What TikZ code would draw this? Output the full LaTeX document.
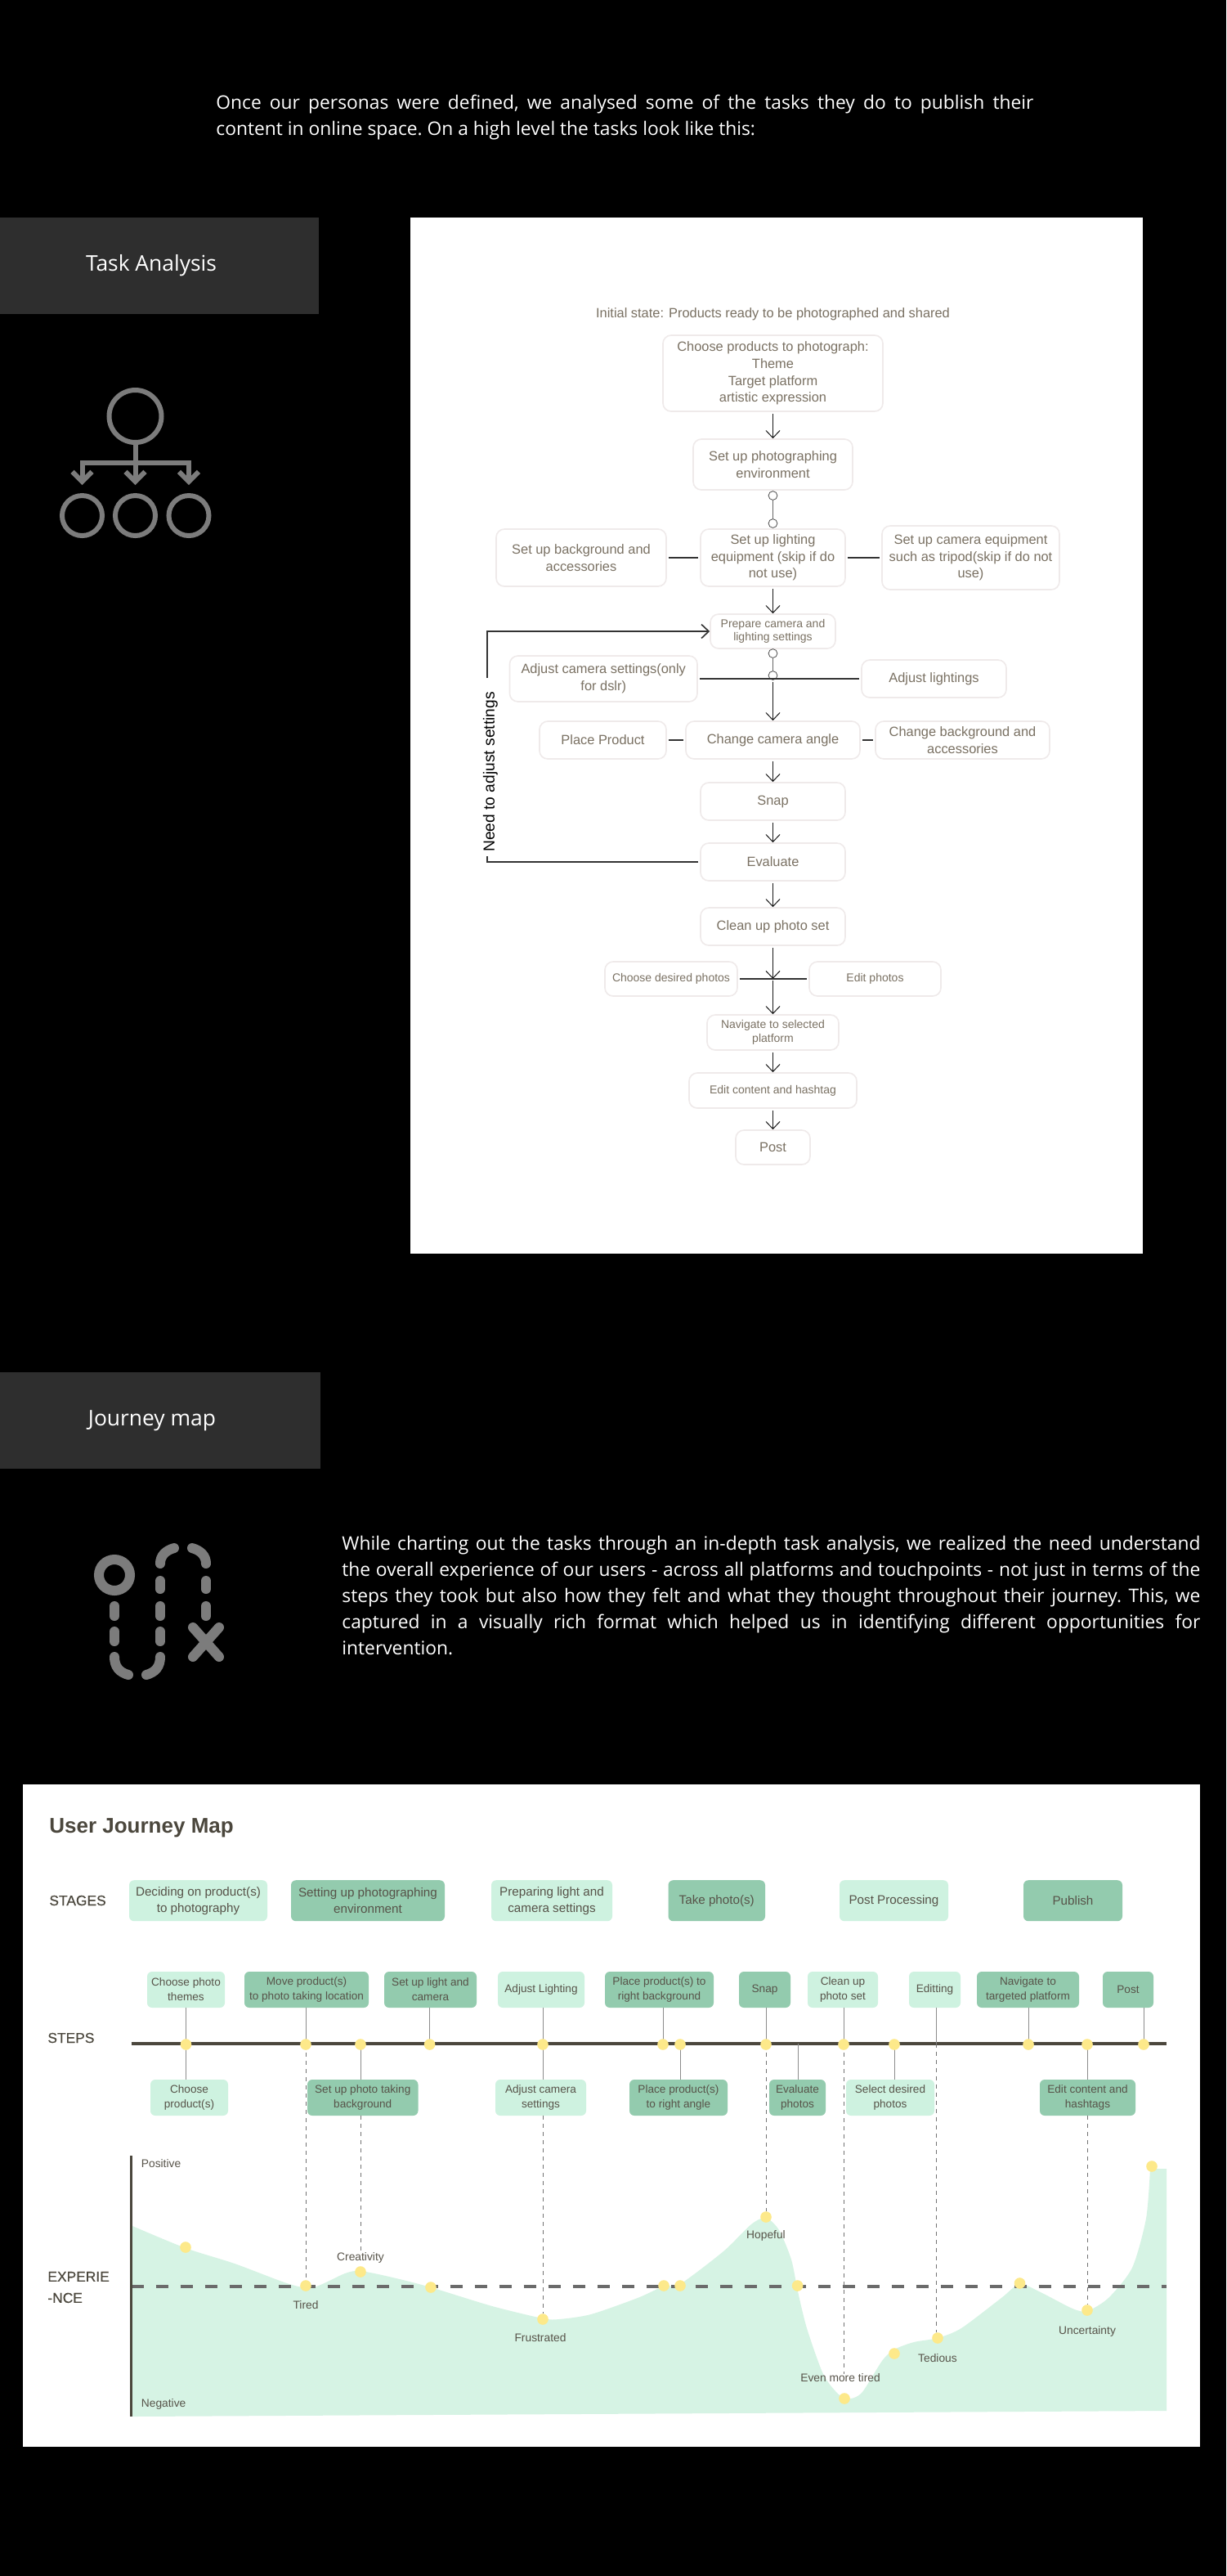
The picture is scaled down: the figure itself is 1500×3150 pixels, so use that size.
\documentclass[tikz,border=0pt]{standalone}
\usepackage{fontspec}
\setmainfont{Liberation Sans}
\newfontfamily\bodyfont{Open Sans}
\newfontfamily\mediumfont[FakeBold=0.3]{Liberation Sans}
\usetikzlibrary{arrows.meta}
\definecolor{panelgray}{HTML}{2E2E2E}
\definecolor{icongray}{HTML}{7C7C7C}
\definecolor{flowtext}{HTML}{7A7163}
\definecolor{flowedge}{HTML}{EFEAEA}
\definecolor{maptext}{HTML}{575349}
\definecolor{mapdark}{HTML}{4B473D}
\definecolor{lightgreen}{HTML}{CEF2E0}
\definecolor{darkgreen}{HTML}{93CBAE}
\definecolor{areagreen}{HTML}{D6F3E4}
\definecolor{dotyellow}{HTML}{FDE98A}
\newcommand{\bx}[7][]{%
  \pgfmathsetmacro\bxcx{(#3+#5)/2}\pgfmathsetmacro\bxcy{(#4+#6)/2}%
  \pgfmathsetmacro\bxw{(#5-#3)*0.5}\pgfmathsetmacro\bxh{(#6-#4)*0.5}%
  \node[#1,minimum width=\bxw pt,minimum height=\bxh pt] (#2) at (\bxcx,\bxcy) {#7};}
\tikzset{
  x=0.5pt,y=-0.5pt,
  flowbig/.style={draw=flowedge,line width=.8pt,rounded corners=5pt,fill=white,inner sep=0pt,align=center,text=flowtext,font=\fontsize{8.2}{10.3}\selectfont},
  flowsmall/.style={flowbig,font=\fontsize{7}{8.2}\selectfont},
  flowarrow/.style={draw=black!90,line width=.5pt,shorten <=1pt,-{Straight Barb[length=4.5pt,width=8.5pt]}},
  flowline/.style={draw=black!80,line width=.8pt,shorten <=1pt,shorten >=1pt},
  flowthin/.style={draw=black!60,line width=.5pt},
  ringnode/.style={circle,draw=black!70,fill=white,line width=.4pt,minimum size=5.4pt,inner sep=0pt},
  sectionbox/.style={fill=panelgray,inner sep=0pt,align=center,text=white,font=\bodyfont\fontsize{13.2}{16}\selectfont},
  bodytext/.style={text=white,align=justify,inner sep=0pt,anchor=north west,font=\bodyfont\frenchspacing\fontsize{11.4}{16}\selectfont},
  iconring/.style={circle,draw=icongray,line width=3pt,inner sep=0pt},
  iconline/.style={draw=icongray,line width=3pt},
  iconarrow/.style={iconline,-{Straight Barb[length=6pt,width=12pt]}},
  uxstroke/.style={draw=icongray,line width=6pt,line cap=round},
  lightstage/.style={fill=lightgreen,rounded corners=3pt,inner sep=0pt,align=center,text=maptext,font=\fontsize{7.6}{10}\selectfont},
  darkstage/.style={lightstage,fill=darkgreen},
  lightstep/.style={lightstage,font=\fontsize{6.8}{9}\selectfont},
  darkstep/.style={lightstep,fill=darkgreen},
  rowlabel/.style={anchor=west,inner sep=0pt,text=mapdark,font=\mediumfont\fontsize{8.7}{13}\selectfont},
  dotnode/.style={circle,fill=dotyellow,minimum size=6.8pt,inner sep=0pt},
  stemline/.style={draw=black!45,line width=.5pt},
  dashstem/.style={draw=black!55,line width=.45pt,dash pattern=on 2.5pt off 2.5pt},
  emolabel/.style={inner sep=0pt,text=maptext,font=\fontsize{6.9}{9}\selectfont},
}
\begin{document}
\begin{tikzpicture}
\useasboundingbox (0,0) rectangle (1500,3150);
\fill[black] (0,0) rectangle (1500,3150);

% intro
\node[bodytext,text width=500pt] (intro) at (264,116) {Once our personas were defined, we analysed some of the tasks they do to publish their\linebreak content in online space. On a high level the tasks look like this:};

% task analysis header
\bx[sectionbox]{taskhead}{0}{266}{390}{384}{Task Analysis\hspace{10pt}}

% tree icon
\node[iconring,minimum size=32pt] (treetop) at (165.5,509) {};
\node[iconring,minimum size=24.5pt] (treeA) at (100.5,630.5) {};
\node[iconring,minimum size=24.5pt] (treeB) at (165.5,630.5) {};
\node[iconring,minimum size=24.5pt] (treeC) at (231,630.5) {};
\coordinate (treeJ) at (165.5,566);
\coordinate (treeL) at (100.5,566);
\coordinate (treeR) at (231,566);
\draw[iconline] (treetop.south) -- (treeJ);
\draw[iconline,line cap=rect] (treeL) -- (treeR);
\draw[iconarrow] (treeL) -- ([yshift=5pt]treeA.north);
\draw[iconarrow] (treeJ) -- ([yshift=5pt]treeB.north);
\draw[iconarrow] (treeR) -- ([yshift=5pt]treeC.north);

% task flow panel
\fill[white] (502,266) rectangle (1398,1533);
\node[text=flowtext,inner sep=0pt,font=\fontsize{8.2}{10}\selectfont] (initial) at (945.5,384) {Initial state: Products ready to be photographed and shared};
\bx[flowbig]{choose}{811}{410}{1080}{503}{Choose products to photograph:\\Theme\\Target platform\\artistic expression}
\bx[flowbig]{env}{848}{537}{1043}{599}{Set up photographing\\environment}
\node[ringnode] (r1) at (945.5,606) {};
\node[ringnode] (r2) at (945.5,640) {};
\bx[flowbig]{light}{857}{647}{1034}{717}{Set up lighting\\equipment (skip if do\\not use)}
\bx[flowbig]{bgset}{607}{647}{815}{717}{Set up background and\\accessories}
\bx[flowbig]{camset}{1079}{643}{1296}{721}{Set up camera equipment\\such as tripod(skip if do not\\use)}
\bx[flowsmall]{prepare}{869}{751}{1022}{793}{Prepare camera and\\lighting settings}
\node[ringnode] (r3) at (945.5,799) {};
\node[ringnode] (r4) at (945.5,826) {};
\bx[flowbig]{adjcam}{623.5}{802}{853}{858}{Adjust camera settings(only\\for dslr)}
\bx[flowbig]{adjlight}{1054}{807}{1231}{853}{Adjust lightings}
\bx[flowbig]{place}{660}{882}{815}{928}{Place Product}
\bx[flowbig]{angle}{839}{882}{1052}{928}{Change camera angle}
\bx[flowbig]{bgchange}{1071}{882}{1284}{928}{Change background and\\accessories}
\bx[flowbig]{snap}{857}{957}{1034}{1003}{Snap}
\bx[flowbig]{evaluate}{857}{1031}{1034}{1077}{Evaluate}
\bx[flowbig]{clean}{857}{1110}{1034}{1156}{Clean up photo set}
\bx[flowsmall]{desired}{740}{1176}{902}{1218}{Choose desired photos}
\bx[flowsmall]{editph}{990}{1176}{1151}{1218}{Edit photos}
\bx[flowsmall]{navigate}{865}{1241}{1026}{1284}{Navigate to selected\\platform}
\bx[flowsmall]{editcontent}{843}{1312}{1048}{1355}{Edit content and hashtag}
\bx[flowbig]{postbox}{900}{1382}{991}{1424}{Post}
\node[rotate=90,inner sep=0pt,text=black,font=\fontsize{9.6}{11}\selectfont] (needadj) at (600,944) {Need to adjust settings};
\coordinate (fbA) at (596,1045);
\coordinate (fbB) at (596,831);
\coordinate (jnB) at (945.5,1197);
\draw[flowarrow] (choose) -- (env);
\draw[flowthin] (r1) -- (r2);
\draw[flowarrow] (light) -- (prepare);
\draw[flowline] (bgset) -- (light);
\draw[flowline] (light) -- (camset);
\draw[flowthin] (r3) -- (r4);
\draw[flowline] (adjcam) -- (adjlight);
\draw[flowarrow] (r4) -- (angle);
\draw[flowline] (place) -- (angle);
\draw[flowline] (angle) -- (bgchange);
\draw[flowarrow] (angle) -- (snap);
\draw[flowarrow] (snap) -- (evaluate);
\draw[flowarrow] (evaluate) -- (clean);
\draw[flowline,shorten <=1pt] (evaluate.west) -| (fbA);
\draw[flowline,shorten >=0pt,-{Straight Barb[length=4.5pt,width=8.5pt]}] (fbB) |- (prepare.west);
\draw[flowarrow] (clean) -- (jnB);
\draw[flowline] (desired) -- (editph);
\draw[flowarrow] (jnB) -- (navigate);
\draw[flowarrow] (navigate) -- (editcontent);
\draw[flowarrow] (editcontent) -- (postbox);

% journey header
\bx[sectionbox]{journeyhead}{0}{1678}{392}{1796}{Journey map\hspace{10pt}}

% ux icon
\node[circle,draw=icongray,line width=6pt,outer sep=0pt,minimum size=19pt,inner sep=0pt] (uxring) at (140,1926) {};
\draw[uxstroke] (140,1964) -- (140,1976);
\draw[uxstroke] (140,1995) -- (140,2007);
\draw[uxstroke] (140,2026) .. controls (140,2038) and (146,2045) .. (157,2048);
\draw[uxstroke] (196,2026) .. controls (196,2038) and (190,2045) .. (179,2048);
\draw[uxstroke] (196,1933) -- (196,1943);
\draw[uxstroke] (196,1964) -- (196,1976);
\draw[uxstroke] (196,1995) -- (196,2007);
\draw[uxstroke] (196,1912) .. controls (196,1903) and (202,1896) .. (213,1893);
\draw[uxstroke] (252,1912) .. controls (252,1903) and (246,1896) .. (235,1893);
\draw[uxstroke] (252,1933) -- (252,1943);
\draw[uxstroke] (252,1964) -- (252,1976);
\draw[uxstroke] (236,1990) -- (268,2026);
\draw[uxstroke] (268,1990) -- (236,2026);

% paragraph
\node[bodytext,text width=525pt] (para) at (418,1878) {While charting out the tasks through an in-depth task analysis, we realized the need understand\linebreak the overall experience of our users - across all platforms and touchpoints - not just in terms of the\linebreak steps they took but also how they felt and what they thought throughout their journey. This, we\linebreak captured in a visually rich format which helped us in identifying different opportunities for\linebreak intervention.};

% map panel
\fill[white] (28,2182) rectangle (1468,2992);
\node[anchor=west,inner sep=0pt,text=mapdark,font=\bfseries\fontsize{13}{15}\selectfont] (maptitle) at (60,2235) {User Journey Map};
\node[rowlabel] (stageslabel) at (60,2324) {STAGES};
\node[rowlabel] (stepslabel) at (58,2492) {STEPS};
\node[rowlabel,align=left] (explabel) at (58,2797) {EXPERIE\\-NCE};

% experience area
\fill[areagreen] plot[smooth,tension=.45] coordinates {(162,2722) (227,2749) (287,2768) (354,2793) (383.5,2797) (422,2780) (441,2777) (480.5,2785) (527,2797) (602,2820) (664,2835) (684,2836) (723,2830) (780,2810) (812,2795.7) (832,2793) (885,2753) (919,2720) (937,2712) (953,2727) (968,2763) (976,2802) (987,2847) (1007,2903) (1026,2928) (1040.5,2933) (1055,2925) (1079,2887) (1094,2873) (1118,2864) (1147,2859) (1176,2847) (1225,2810) (1247.5,2793) (1273,2803) (1312,2823) (1330,2826) (1356,2810) (1385,2773) (1402,2713) (1407,2652)} -- (1427,2652) -- (1427,2948) -- (162,2955) -- cycle;
\coordinate (midL) at (160.6,2795.7);
\coordinate (midR) at (1427,2795.7);
\draw[black!58,line width=2pt,dash pattern=on 7.5pt off 7.5pt] (midL) -- (midR);
\coordinate (axisT) at (160.6,2636);
\coordinate (axisB) at (160.6,2955);
\draw[mapdark,line width=1.6pt] (axisT) -- (axisB);
\node[emolabel,anchor=west] (positive) at (172.5,2646) {Positive};
\node[emolabel,anchor=west] (negative) at (172.5,2940) {Negative};

% stages
\bx[lightstage,yshift=-.6pt]{st1}{158}{2298}{327}{2348}{Deciding on product(s)\\to photography}
\bx[darkstage,yshift=-.6pt]{st2}{356}{2298}{544}{2348}{Setting up photographing\\environment}
\bx[lightstage,yshift=-.6pt]{st3}{601}{2298}{749}{2348}{Preparing light and\\camera settings}
\bx[darkstage,yshift=-.6pt]{st4}{817.5}{2298}{936}{2348}{Take photo(s)}
\bx[lightstage,yshift=-.6pt]{st5}{1027}{2298}{1160}{2348}{Post Processing}
\bx[darkstage,yshift=-.6pt]{st6}{1252}{2298}{1373}{2348}{Publish}

% steps above
\bx[lightstep]{up1}{180}{2411}{275}{2455}{Choose photo\\themes}
\bx[darkstep]{up2}{299}{2411}{451}{2455}{Move product(s)\\to photo taking location}
\bx[darkstep]{up3}{470}{2411}{583}{2455}{Set up light and\\camera}
\bx[lightstep]{up4}{609}{2411}{715}{2455}{Adjust Lighting}
\bx[darkstep]{up5}{740}{2411}{873}{2455}{Place product(s) to\\right background}
\bx[darkstep]{up6}{904}{2411}{967}{2455}{Snap}
\bx[lightstep]{up7}{988}{2411}{1074}{2455}{Clean up\\photo set}
\bx[lightstep]{up8}{1112}{2411}{1175}{2455}{Editting}
\bx[darkstep]{up9}{1195}{2411}{1320}{2455}{Navigate to\\targeted platform}
\bx[darkstep]{up10}{1349}{2411}{1411}{2455}{Post}

% steps below
\bx[lightstep]{lo1}{184}{2543}{279}{2587}{Choose\\product(s)}
\bx[darkstep]{lo2}{376}{2543}{511.5}{2587}{Set up photo taking\\background}
\bx[lightstep]{lo3}{606}{2543}{717}{2587}{Adjust camera\\settings}
\bx[darkstep]{lo4}{770}{2543}{890}{2587}{Place product(s)\\to right angle}
\bx[darkstep]{lo5}{941}{2543}{1010}{2587}{Evaluate\\photos}
\bx[lightstep]{lo6}{1035}{2543}{1143}{2587}{Select desired\\photos}
\bx[darkstep]{lo7}{1272}{2543}{1389}{2587}{Edit content and\\hashtags}

% timeline
\coordinate (tlL) at (160.6,2498.7);
\coordinate (tlR) at (1427,2498.7);
\coordinate (tlEval) at (976,2498.7);
\coordinate (tlEdit) at (1145,2498.7);
\foreach \nm/\px in {t1/227.5,t2/374,t3/441,t4/525.6,t5/664,t6/811,t7/832,t8/937,t9/1032,t10/1094,t11/1258,t12/1330,t13/1399}{
  \coordinate (\nm pos) at (\px,2500);
}
\draw[mapdark,line width=1.8pt] (tlL) -- (tlR);
\draw[stemline] (up1.south -| t1pos) -- (t1pos);
\draw[stemline] (up2.south -| t2pos) -- (t2pos);
\draw[stemline] (up3.south -| t4pos) -- (t4pos);
\draw[stemline] (up4.south -| t5pos) -- (t5pos);
\draw[stemline] (up5.south -| t6pos) -- (t6pos);
\draw[stemline] (up6.south -| t8pos) -- (t8pos);
\draw[stemline] (up7.south -| t9pos) -- (t9pos);
\draw[stemline] (up8.south -| tlEdit) -- (tlEdit);
\draw[stemline] (up9.south -| t11pos) -- (t11pos);
\draw[stemline] (up10.south -| t13pos) -- (t13pos);
\draw[stemline] (t1pos) -- (lo1.north -| t1pos);
\draw[stemline] (t3pos) -- (lo2.north -| t3pos);
\draw[stemline] (t5pos) -- (lo3.north -| t5pos);
\draw[stemline] (t7pos) -- (lo4.north -| t7pos);
\draw[stemline] (tlEval) -- (lo5.north -| tlEval);
\draw[stemline] (t10pos) -- (lo6.north -| t10pos);
\draw[stemline] (t12pos) -- (lo7.north -| t12pos);

% emotion labels
\node[emolabel] (creativity) at (441,2761) {Creativity};
\node[emolabel] (tired) at (374,2819) {Tired};
\node[emolabel] (frustrated) at (661,2859) {Frustrated};
\node[emolabel] (hopeful) at (937,2734) {Hopeful};
\node[emolabel] (moretired) at (1028,2908) {Even more tired};
\node[emolabel] (tedious) at (1147,2884) {Tedious};
\node[emolabel] (uncertain) at (1330,2851) {Uncertainty};

% experience dots
\foreach \nm/\px/\py in {e1/227/2748,e2/374/2795,e3/441/2778,e4/527/2797,e5/664/2836,e6/812/2795,e7/832/2795,e8/937/2711,e9/975.6/2795,e10/1033/2933,e11/1094/2878,e12/1147/2859,e13/1247.5/2792,e14/1330/2825,e15/1409/2649}{
  \node[dotnode] (\nm) at (\px,\py) {};
}
\draw[dashstem] (t2pos) -- (e2);
\draw[dashstem] (lo2.south -| creativity.north) -- (creativity.north);
\draw[dashstem] (lo3.south -| e5) -- (e5);
\draw[dashstem] (t8pos) -- (e8);
\draw[dashstem] (t9pos) -- (moretired.north -| t9pos);
\draw[dashstem] (tlEdit) -- (tlEdit |- e12.north);
\draw[dashstem] (lo7.south -| e14) -- (e14);

% timeline dots
\foreach \nm in {t1,t2,t3,t4,t5,t6,t7,t8,t9,t10,t11,t12,t13}{
  \node[dotnode] (\nm) at (\nm pos) {};
}
\end{tikzpicture}
\end{document}
